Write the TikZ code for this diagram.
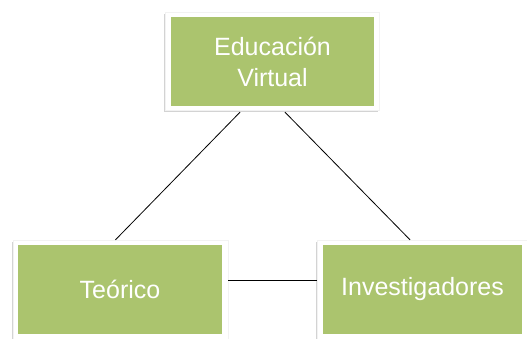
\documentclass[tikz,border=0pt]{standalone}
\usepackage{fontspec}
\setmainfont{Liberation Sans}
\usetikzlibrary{calc,shadows}
\definecolor{boxgreen}{RGB}{171,196,110}
\begin{document}
\begin{tikzpicture}[x=1pt,y=1pt,
  frame/.style={draw=white!90!gray,line width=0.4pt,fill=white,inner sep=0pt,
    drop shadow={shadow xshift=-1.5pt,shadow yshift=-2pt,opacity=0.35,fill=gray}},
  greenbox/.style={fill=boxgreen,inner sep=0pt,text=white,align=center,
    font=\fontsize{25}{31}\selectfont},
  link/.style={draw=black,line width=0.8pt}]
\useasboundingbox (0,0) rectangle (527,339);
% frames
\node[frame,minimum width=214pt,minimum height=98pt] (topf) at (272,278) {};
\node[frame,minimum width=215pt,minimum height=104pt] (leftf) at (120.5,47) {};
\node[frame,minimum width=212pt,minimum height=104pt] (rightf) at (423,47) {};
% green boxes
\node[greenbox,minimum width=203pt,minimum height=89pt] (top) at (272.5,277.5) {Educación\\Virtual};
\node[greenbox,minimum width=204pt,minimum height=89pt] (left) at (120,49.5) {Teórico};
\node[greenbox,minimum width=199pt,minimum height=89pt] (right) at (422.5,49.5) {Investigadores};
% connectors
\draw[link] ($(topf.south)+(-32,-2)$) -- ($(leftf.north)+(-5,0)$);
\draw[link] ($(topf.south)+(13,-2)$) -- ($(rightf.north)+(-13,0)$);
\draw[link] (leftf.east |- 0,59) -- (rightf.west |- 0,59);
\end{tikzpicture}
\end{document}
